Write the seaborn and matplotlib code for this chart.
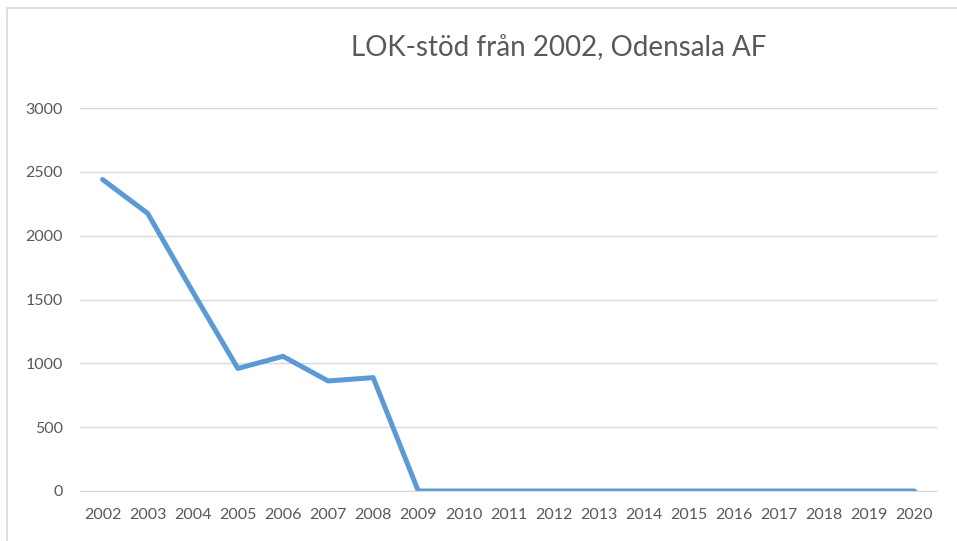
import matplotlib
matplotlib.use('Agg')
import matplotlib.pyplot as plt
import seaborn as sns
import pandas as pd
from matplotlib.patches import Rectangle

# data
years = [str(y) for y in range(2002, 2021)]
lok_stod = [2440, 2175, 1560, 960, 1055, 862, 888,
            0, 0, 0, 0, 0, 0, 0, 0, 0, 0, 0, 0]

sns.set_style('white')
plt.rcParams['font.family'] = ['Lato', 'DejaVu Sans']

df = pd.DataFrame({'year': years, 'value': lok_stod})

fig = plt.figure(figsize=(9.57, 5.41), dpi=100)
ax = fig.add_axes([80 / 957, 1 - 491 / 541, (937 - 80) / 957, (491 - 108) / 541])

sns.lineplot(data=df, x='year', y='value', ax=ax, color='#5B9BD5',
             linewidth=3.6, sort=False)

ax.set_xlim(-0.5, len(years) - 0.5)
ax.set_ylim(0, 3000)
ax.set_yticks(range(0, 3001, 500))
ax.grid(True, axis='y', color='#D9D9D9', linewidth=1)
ax.set_axisbelow(True)
for s in ['top', 'right', 'left']:
    ax.spines[s].set_visible(False)
ax.spines['bottom'].set_color('#D9D9D9')
ax.tick_params(axis='both', length=0, labelsize=11.5, colors='#595959')
ax.tick_params(axis='x', pad=12.5)
ax.tick_params(axis='y', pad=12.5)
ax.set_xlabel('')
ax.set_ylabel('')

fig.text(559 / 957, 1 - 48 / 541, 'LOK-stöd från 2002, Odensala AF',
         ha='center', va='center', fontsize=20, color='#595959')

# ram runt diagrammet
fig.patches.append(Rectangle((7 / 957, -0.1), 1.1, 1 - 8 / 541 + 0.1,
                             transform=fig.transFigure, fill=False,
                             edgecolor='#D9D9D9', linewidth=1.2))

plt.savefig('out.png', dpi=100)
